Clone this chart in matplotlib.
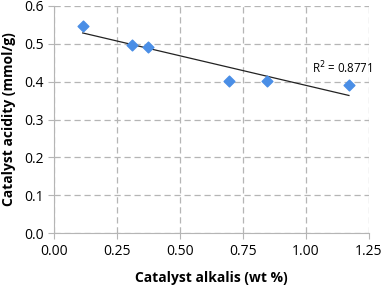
import numpy as np
import matplotlib
matplotlib.use("Agg")
import matplotlib.pyplot as plt

# catalyst alkalis (wt %) vs catalyst acidity (mmol/g)
alkalis = [0.114, 0.31, 0.372, 0.693, 0.844, 1.171]
acidity = [0.547, 0.498, 0.492, 0.401, 0.402, 0.392]
r2_label = "R$^2$ = 0.8771"

plt.rcParams['font.family'] = ['Open Sans', 'DejaVu Sans']

fig = plt.figure(figsize=(3.83, 2.85), dpi=100)
ax = fig.add_axes([0.141, 0.182, 0.822, 0.797])

# linear trendline over the data range
slope, icpt = np.polyfit(alkalis, acidity, 1)
xs = np.array([min(alkalis), max(alkalis)])
ax.plot(xs, slope * xs + icpt, color='#222222', lw=0.9, zorder=3)

ax.scatter(alkalis, acidity, marker='D', s=30, color='#4a8ee6', zorder=4)
ax.text(1.025, 0.437, r2_label, fontsize=8.3, va='center', ha='left')

ax.set_xlim(0, 1.25)
ax.set_ylim(0, 0.6)
ax.set_xticks(np.arange(0, 1.26, 0.25))
ax.set_yticks(np.arange(0, 0.61, 0.1))
ax.set_xticklabels([f"{v:.2f}" for v in np.arange(0, 1.26, 0.25)])
ax.set_yticklabels([f"{v:.1f}" for v in np.arange(0, 0.61, 0.1)])
ax.grid(True, color='#b5b5b5', ls=(0, (5, 3)), lw=0.9)
ax.set_axisbelow(True)
for s in ['top', 'right']:
    ax.spines[s].set_visible(False)
for s in ['left', 'bottom']:
    ax.spines[s].set_color('#b5b5b5')
ax.tick_params(colors='#b5b5b5', labelcolor='black', labelsize=10, length=4)
ax.set_xlabel('Catalyst alkalis (wt %)', fontsize=10, fontweight='bold', labelpad=9)
ax.set_ylabel('Catalyst acidity (mmol/g)', fontsize=10, fontweight='bold', labelpad=6)

fig.savefig('out.png', dpi=100)
